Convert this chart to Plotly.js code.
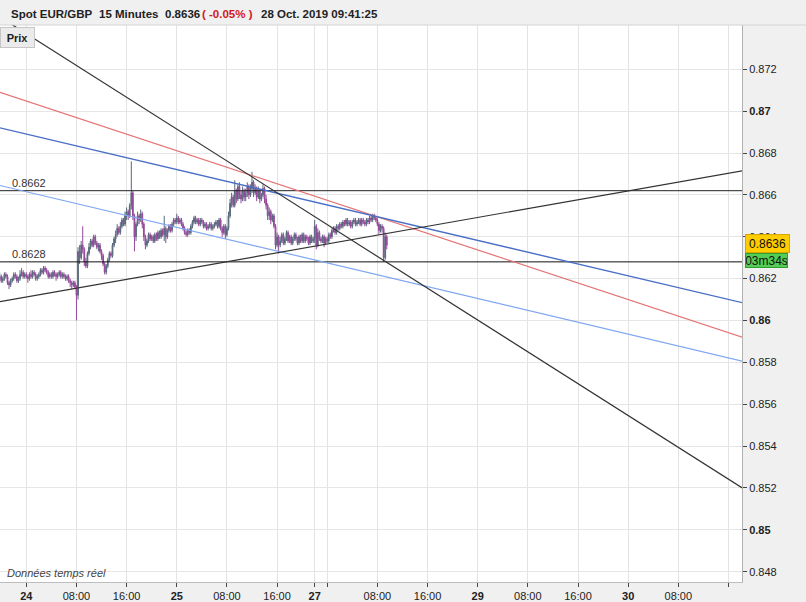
<!DOCTYPE html>
<html>
<head>
<meta charset="utf-8">
<script src="https://cdn.plot.ly/plotly-3.0.1.min.js"></script>
<style>html,body{margin:0;padding:0;background:#f0f0f0;}#chart{width:806px;height:602px;}</style>
</head>
<body>
<div id="chart"></div>
<script>
// 15-minute candles, prices in 1/10000 (pips); time axis in trading hours from 24 Oct 00:00 (weekend removed)
const firstBarHour = -4.25;
const barHours = 0.25;
const openP = [8620,
8621,8619,8620,8622, 8621,8618,8617,8619, 8620,8622,8621,8619, 8620,8622,8623,8621,
8622,8621,8620,8622, 8621,8623,8622,8620, 8621,8622,8624,8623, 8625,8624,8623,8621,
8622,8621,8623,8622, 8621,8622,8623,8621, 8622,8621,8620,8621, 8619,8618,8617,8618,
8616,8612,8633,8630, 8636,8634,8628,8626, 8632,8635,8638,8636, 8640,8637,8635,8636,
8633,8631,8627,8623, 8626,8629,8632,8631, 8636,8639,8641,8644, 8642,8645,8648,8646,
8650,8652,8650,8655, 8661,8650,8640,8646, 8650,8648,8651,8646, 8640,8636,8638,8641,
8639,8640,8638,8641, 8639,8642,8640,8643, 8641,8644,8640,8643, 8645,8643,8646,8648,
8647,8649,8647,8648, 8646,8644,8642,8641, 8643,8642,8645,8647, 8649,8647,8648,8646,
8648,8647,8645,8646, 8644,8645,8646,8644, 8645,8646,8647,8645, 8648,8644,8642,8645,
8641,8644,8650,8656, 8659,8655,8662,8658, 8664,8660,8658,8662, 8659,8661,8664,8660,
8663,8666,8661,8663, 8659,8662,8658,8660, 8663,8658,8655,8650, 8652,8648,8650,8645,
8636,8640,8636,8638, 8641,8637,8639,8642, 8638,8640,8637,8639, 8641,8639,8637,8640,
8638,8641,8638,8640, 8639,8637,8640,8638, 8639,8645,8636,8642, 8639,8638,8640,8637,
8639,8638,8641,8640, 8643,8644,8642,8645, 8644,8646,8645,8647, 8646,8648,8646,8647,
8645,8647,8648,8646, 8647,8648,8646,8648, 8647,8646,8648,8647, 8649,8648,8650,8649,
8648,8646,8643,8645, 8644,8630,8640];
const highP = [8623,
8622,8621,8623,8623, 8622,8619,8620,8621, 8623,8623,8622,8621, 8624,8625,8624,8623,
8623,8622,8623,8624, 8624,8624,8623,8622, 8623,8625,8625,8626, 8626,8625,8624,8623,
8623,8624,8624,8623, 8623,8624,8624,8623, 8623,8622,8622,8622, 8620,8619,8619,8619,
8617,8635,8636,8638, 8645,8635,8630,8633, 8637,8639,8639,8641, 8641,8638,8637,8637,
8634,8632,8628,8627, 8630,8633,8633,8637, 8640,8643,8646,8645, 8647,8649,8649,8652,
8654,8653,8656,8676, 8662,8651,8647,8652, 8651,8653,8652,8647, 8641,8639,8642,8642,
8641,8641,8642,8642, 8643,8643,8644,8644, 8650,8645,8644,8646, 8646,8647,8649,8649,
8651,8650,8649,8649, 8647,8645,8643,8644, 8644,8646,8648,8650, 8650,8649,8649,8649,
8649,8648,8647,8647, 8646,8647,8647,8646, 8647,8648,8648,8649, 8649,8645,8646,8646,
8645,8652,8658,8661, 8660,8667,8663,8665, 8666,8662,8664,8663, 8663,8666,8665,8665,
8671,8667,8665,8664, 8664,8663,8661,8665, 8664,8660,8656,8654, 8653,8651,8651,8646,
8642,8641,8640,8642, 8642,8640,8643,8643, 8641,8641,8640,8642, 8642,8640,8641,8641,
8642,8642,8641,8641, 8640,8641,8641,8640, 8648,8646,8644,8643, 8640,8641,8641,8640,
8640,8642,8642,8644, 8645,8645,8646,8646, 8647,8647,8648,8648, 8649,8649,8648,8648,
8648,8649,8649,8648, 8649,8649,8649,8649, 8648,8649,8649,8650, 8650,8651,8651,8650,
8649,8647,8646,8646, 8645,8642,8641];
const lowP = [8619,
8618,8618,8619,8620, 8617,8615,8616,8618, 8619,8620,8618,8618, 8619,8621,8620,8620,
8620,8618,8619,8620, 8620,8621,8619,8619, 8620,8621,8622,8622, 8623,8622,8620,8620,
8620,8620,8621,8619, 8620,8621,8620,8620, 8620,8619,8619,8618, 8616,8615,8616,8615,
8600,8610,8627,8629, 8632,8626,8625,8625, 8631,8634,8635,8635, 8636,8634,8633,8632,
8629,8626,8622,8622, 8625,8628,8630,8630, 8635,8637,8640,8641, 8641,8644,8645,8645,
8648,8648,8649,8653, 8648,8633,8638,8645, 8646,8647,8644,8638, 8634,8635,8637,8638,
8638,8637,8637,8638, 8638,8639,8639,8640, 8638,8637,8639,8642, 8642,8642,8645,8646,
8646,8646,8646,8645, 8643,8641,8640,8640, 8641,8641,8644,8646, 8646,8646,8645,8645,
8646,8644,8644,8643, 8643,8644,8643,8643, 8644,8645,8644,8644, 8643,8640,8641,8639,
8640,8643,8649,8654, 8654,8654,8656,8657, 8658,8656,8657,8657, 8657,8659,8658,8659,
8661,8659,8660,8657, 8658,8656,8657,8659, 8656,8653,8648,8648, 8646,8647,8644,8634,
8635,8632,8635,8637, 8636,8636,8638,8637, 8637,8636,8636,8638, 8638,8636,8636,8637,
8637,8637,8637,8638, 8636,8636,8637,8637, 8637,8634,8635,8638, 8637,8637,8635,8636,
8637,8637,8639,8639, 8642,8641,8641,8643, 8643,8644,8644,8645, 8645,8645,8645,8644,
8644,8646,8645,8645, 8646,8645,8645,8646, 8645,8645,8646,8646, 8647,8647,8648,8647,
8645,8641,8642,8642, 8628,8629,8634];
const closeP = [8621,
8619,8620,8622,8621, 8618,8617,8619,8620, 8622,8621,8619,8620, 8622,8623,8621,8622,
8621,8620,8622,8621, 8623,8622,8620,8621, 8622,8624,8623,8625, 8624,8623,8621,8622,
8621,8623,8622,8621, 8622,8623,8621,8622, 8621,8620,8621,8619, 8618,8617,8618,8616,
8612,8633,8630,8636, 8634,8628,8626,8632, 8635,8638,8636,8640, 8637,8635,8636,8633,
8631,8627,8623,8626, 8629,8632,8631,8636, 8639,8641,8644,8642, 8645,8648,8646,8650,
8652,8650,8655,8661, 8650,8640,8646,8650, 8648,8651,8646,8640, 8636,8638,8641,8639,
8640,8638,8641,8639, 8642,8640,8643,8641, 8644,8640,8643,8645, 8643,8646,8648,8647,
8649,8647,8648,8646, 8644,8642,8641,8643, 8642,8645,8647,8649, 8647,8648,8646,8648,
8647,8645,8646,8644, 8645,8646,8644,8645, 8646,8647,8645,8648, 8644,8642,8645,8641,
8644,8650,8656,8659, 8655,8662,8658,8664, 8660,8658,8662,8659, 8661,8664,8660,8663,
8666,8661,8663,8659, 8662,8658,8660,8663, 8658,8655,8650,8652, 8648,8650,8645,8636,
8640,8636,8638,8641, 8637,8639,8642,8638, 8640,8637,8639,8641, 8639,8637,8640,8638,
8641,8638,8640,8639, 8637,8640,8638,8639, 8645,8636,8642,8639, 8638,8640,8637,8639,
8638,8641,8640,8643, 8644,8642,8645,8644, 8646,8645,8647,8646, 8648,8646,8647,8645,
8647,8648,8646,8647, 8648,8646,8648,8647, 8646,8648,8647,8649, 8648,8650,8649,8648,
8646,8643,8645,8644, 8630,8640,8636];

// drawn trend lines: endpoints (hours, pips)
const trendX = [-4.2, 114.2];
const trendBlackDown = [8745, 8520];
const trendRed = [8709, 8592];
const trendBlueDark = [8692, 8608.5];
const trendBlueLight = [8664.5, 8580.6];
const trendBlackUp = [8609, 8671.5];
const levelHigh = 0.8662;
const levelLow = 0.8628;

// axis ticks
const xTickVals = [0, 8, 16, 24, 32, 40, 46, 48, 56, 64, 72, 80, 88, 96, 104, 112];
const xTickText = ['<b>24</b>','08:00','16:00','<b>25</b>','08:00','16:00','<b>27</b>','','08:00','16:00','<b>29</b>','08:00','16:00','<b>30</b>','08:00',''];
const yTickVals = [0.848,0.85,0.852,0.854,0.856,0.858,0.86,0.862,0.864,0.866,0.868,0.87,0.872];
const yTickText = ['0.848','<b>0.85</b>','0.852','0.854','0.856','0.858','<b>0.86</b>','0.862','0.864','0.866','0.868','<b>0.87</b>','0.872'];

const P = v => v / 10000;
const times = openP.map((_, i) => firstBarHour + i * barHours);

const traces = [{
  type: 'candlestick',
  x: times,
  open: openP.map(P), high: highP.map(P), low: lowP.map(P), close: closeP.map(P),
  increasing: {line: {color: '#56687b', width: 1}, fillcolor: '#6b7d90'},
  decreasing: {line: {color: '#94479a', width: 1}, fillcolor: '#a760a8'},
  whiskerwidth: 0,
  hoverinfo: 'skip'
}];
function line(yv, color, width) {
  traces.push({type: 'scatter', mode: 'lines', x: trendX, y: yv, line: {color: color, width: width}, hoverinfo: 'skip'});
}
line([levelHigh, levelHigh], '#222', 1);
line([levelLow, levelLow], '#111', 1);
line(trendBlueLight.map(P), '#7fa6f2', 1.2);
line(trendRed.map(P), '#e57373', 1.2);
line(trendBlueDark.map(P), '#4a6fc6', 1.4);
line(trendBlackUp.map(P), '#333', 1.2);
line(trendBlackDown.map(P), '#333', 1.2);

const F = 'Arial, "Liberation Sans", sans-serif';
const lastPrice = P(closeP[closeP.length - 1]);
const layout = {
  width: 806, height: 602,
  margin: {l: 0, r: 64, t: 25, b: 20, pad: 0},
  paper_bgcolor: '#f0f0f0', plot_bgcolor: '#ffffff',
  showlegend: false, hovermode: false, dragmode: false,
  font: {family: F, size: 11, color: '#222'},
  xaxis: {
    type: 'linear', range: [-4.195, 114.16], rangeslider: {visible: false},
    tickmode: 'array', tickvals: xTickVals, ticktext: xTickText,
    showgrid: true, gridcolor: '#e3e3e3', gridwidth: 1, zeroline: false,
    ticks: 'outside', ticklen: 4, tickcolor: '#444',
    showline: true, linecolor: '#bdbdbd', linewidth: 1,
    tickfont: {family: F, size: 11, color: '#222'}, fixedrange: true
  },
  yaxis: {
    side: 'right', range: [0.847508, 0.874115],
    tickmode: 'array', tickvals: yTickVals, ticktext: yTickText,
    showgrid: true, gridcolor: '#e6e6e6', gridwidth: 1, zeroline: false,
    ticks: 'outside', ticklen: 4, tickcolor: '#444',
    showline: true, linecolor: '#b0b0b0', linewidth: 1,
    tickfont: {family: F, size: 11, color: '#222'}, fixedrange: true
  },
  shapes: [
    {type: 'line', xref: 'paper', yref: 'paper', x0: 0, x1: 1.0863, y0: 1, y1: 1, line: {color: '#d4d4d4', width: 1}}
  ],
  annotations: [
    {xref: 'paper', yref: 'paper', x: 9/742, y: 1 + 11/557, xanchor: 'left', yanchor: 'middle', showarrow: false,
     text: '<b>Spot EUR/GBP</b>', font: {family: F, size: 11.5, color: '#222'}},
    {xref: 'paper', yref: 'paper', x: 97/742, y: 1 + 11/557, xanchor: 'left', yanchor: 'middle', showarrow: false,
     text: '<b>15 Minutes</b>', font: {family: F, size: 11.5, color: '#222'}},
    {xref: 'paper', yref: 'paper', x: 163/742, y: 1 + 11/557, xanchor: 'left', yanchor: 'middle', showarrow: false,
     text: '<b>0.8636</b>', font: {family: F, size: 11.5, color: '#222'}},
    {xref: 'paper', yref: 'paper', x: 200/742, y: 1 + 11/557, xanchor: 'left', yanchor: 'middle', showarrow: false,
     text: '<b>( -0.05% )</b>', font: {family: F, size: 11.5, color: '#d01818'}},
    {xref: 'paper', yref: 'paper', x: 259/742, y: 1 + 11/557, xanchor: 'left', yanchor: 'middle', showarrow: false,
     text: '<b>28 Oct. 2019 09:41:25</b>', font: {family: F, size: 11.5, color: '#222'}},
    {xref: 'paper', yref: 'paper', x: 0, y: 1 - 12/557, xanchor: 'left', yanchor: 'middle', showarrow: false,
     text: '<b>Prix</b>', font: {family: F, size: 11, color: '#222'}, bgcolor: '#ebebeb', bordercolor: '#c6c6c6',
     borderwidth: 1, width: 31, height: 17, borderpad: 1},
    {xref: 'paper', yref: 'y', x: 10/742, y: levelHigh, xanchor: 'left', yanchor: 'bottom', yshift: 0, showarrow: false,
     text: '0.8662', font: {family: F, size: 11, color: '#333'}},
    {xref: 'paper', yref: 'y', x: 10/742, y: levelLow, xanchor: 'left', yanchor: 'bottom', yshift: 0, showarrow: false,
     text: '0.8628', font: {family: F, size: 11, color: '#333'}},
    {xref: 'paper', yref: 'paper', x: 5/742, y: 9/557, xanchor: 'left', yanchor: 'middle', showarrow: false,
     text: '<i>Données temps réel</i>', font: {family: F, size: 11, color: '#444'}},
    {xref: 'paper', yref: 'y', x: 1 + 3/742, y: lastPrice, xanchor: 'left', yanchor: 'middle', yshift: 2, showarrow: false,
     text: '0.8636', font: {family: F, size: 12, color: '#111'}, bgcolor: '#ffcc00', bordercolor: '#d7a900',
     borderwidth: 1, borderpad: 1, width: 41, height: 15},
    {xref: 'paper', yref: 'y', x: 1 + 3/742, y: lastPrice, xanchor: 'left', yanchor: 'middle', yshift: -15, showarrow: false,
     text: '03m34s', font: {family: F, size: 12, color: '#111'}, bgcolor: '#55cc55', bordercolor: '#2f9e2f',
     borderwidth: 1, borderpad: 0, width: 41, height: 13}
  ]
};
Plotly.newPlot('chart', traces, layout, {staticPlot: true, displayModeBar: false});
</script>
</body>
</html>
